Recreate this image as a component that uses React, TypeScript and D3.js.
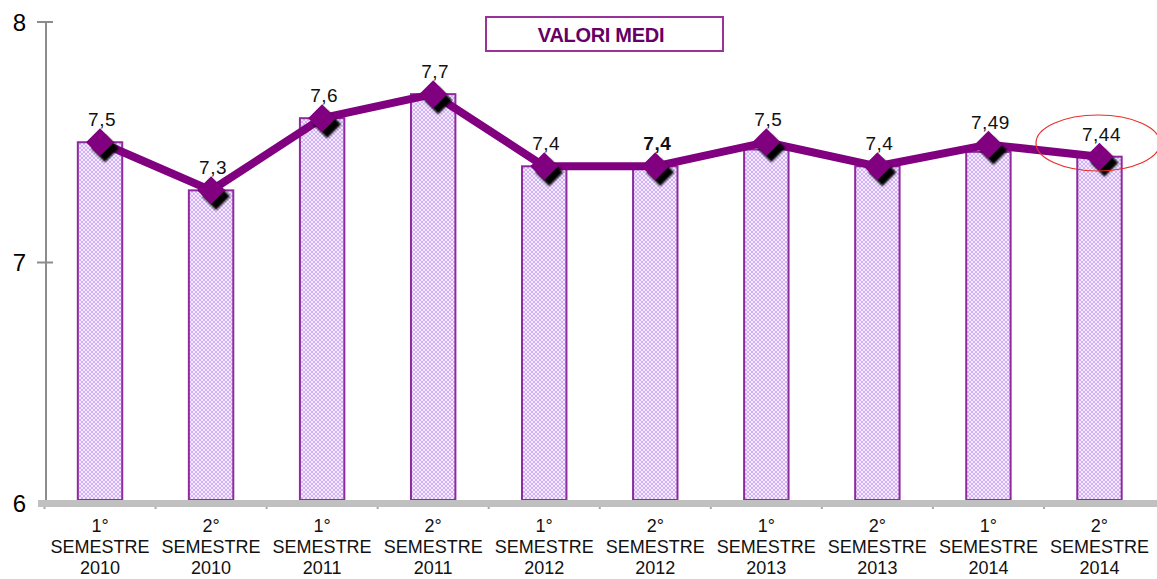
import React from "react";
import * as d3 from "d3";

const categories = [
  ["1°", "SEMESTRE", "2010"],
  ["2°", "SEMESTRE", "2010"],
  ["1°", "SEMESTRE", "2011"],
  ["2°", "SEMESTRE", "2011"],
  ["1°", "SEMESTRE", "2012"],
  ["2°", "SEMESTRE", "2012"],
  ["1°", "SEMESTRE", "2013"],
  ["2°", "SEMESTRE", "2013"],
  ["1°", "SEMESTRE", "2014"],
  ["2°", "SEMESTRE", "2014"],
];
const barValues = [7.5, 7.3, 7.6, 7.7, 7.4, 7.4, 7.47, 7.4, 7.46, 7.44];
const lineValues = [7.5, 7.3, 7.6, 7.7, 7.4, 7.4, 7.5, 7.4, 7.49, 7.44];
const labels = ["7,5", "7,3", "7,6", "7,7", "7,4", "7,4", "7,5", "7,4", "7,49", "7,44"];
const yTicks = [6, 7, 8];

const width = 1157;
const height = 579;

export default function App() {
  const keys = categories.map((_, i) => String(i));
  const x = d3.scaleBand().domain(keys).range([44.5, 1155]).paddingInner(0.6).paddingOuter(0.3);
  const y = d3.scaleLinear().domain([6, 8]).range([503, 22]);
  const cx = (i: number) => (x(String(i)) as number) + x.bandwidth() / 2;

  const line = d3
    .line<number>()
    .x((_, i) => cx(i))
    .y((d) => y(d));

  const diamond = (px: number, py: number) =>
    `M${px},${py - 14}L${px + 14},${py}L${px},${py + 14}L${px - 14},${py}Z`;

  return (
    <svg
      width={width}
      height={height}
      style={{ position: "absolute", left: 0, top: 0, background: "#fff" }}
      fontFamily="Arial, 'Liberation Sans', sans-serif"
    >
      <defs>
        <pattern id="hatch" width="4" height="4" patternUnits="userSpaceOnUse">
          <rect width="4" height="4" fill="#f4ebff" />
          <path d="M0,0L4,4M4,0L0,4" stroke="#c9a2f2" strokeWidth="0.8" />
        </pattern>
        <filter id="blur" x="-50%" y="-50%" width="200%" height="200%">
          <feGaussianBlur stdDeviation="1" />
        </filter>
      </defs>

      {/* bars */}
      {barValues.map((v, i) => (
        <rect
          key={i}
          x={x(String(i))}
          y={y(v)}
          width={x.bandwidth()}
          height={y(6) - y(v) - 3}
          fill="url(#hatch)"
          stroke="#8e2a9e"
          strokeWidth={2}
        />
      ))}

      {/* y axis */}
      <line x1={46} x2={46} y1={y(8)} y2={y(6)} stroke="#8c8c8c" strokeWidth={2} />
      {yTicks.map((t) => (
        <g key={t}>
          {t !== 6 && <line x1={37} x2={53} y1={y(t)} y2={y(t)} stroke="#8c8c8c" strokeWidth={2} />}
          <text x={26} y={y(t)} dy="0.36em" textAnchor="end" fontSize={24} fill="#000">
            {t}
          </text>
        </g>
      ))}

      {/* x axis */}
      <rect x={38} y={y(6) - 3} width={width - 38} height={7} fill="#c0c0c0" />
      {categories.map((_, i) => (
        <line
          key={i}
          x1={(x(String(i)) as number) - x.step() * 0.3}
          x2={(x(String(i)) as number) - x.step() * 0.3}
          y1={y(6) + 4}
          y2={y(6) + 6}
          stroke="#a8a8a8"
          strokeWidth={2}
        />
      ))}
      {categories.map((c, i) => (
        <text key={i} x={cx(i)} textAnchor="middle" fontSize={18} fill="#111">
          {c.map((s, j) => (
            <tspan key={j} x={cx(i)} y={532 + j * 21}>
              {s}
            </tspan>
          ))}
        </text>
      ))}

      {/* line */}
      <path d={line(lineValues) || ""} fill="none" stroke="#800080" strokeWidth={8} strokeLinejoin="round" />
      {lineValues.map((v, i) => (
        <path key={"s" + i} d={diamond(cx(i) + 5, y(v) + 6)} fill="#000" filter="url(#blur)" />
      ))}
      {lineValues.map((v, i) => (
        <path key={"d" + i} d={diamond(cx(i), y(v))} fill="#800080" />
      ))}

      {/* data labels */}
      {lineValues.map((v, i) => (
        <text
          key={"l" + i}
          x={cx(i) + 2}
          y={y(v) - 16}
          textAnchor="middle"
          fontSize={19}
          letterSpacing={0.5}
          fontWeight={i === 5 ? "bold" : "normal"}
          fill="#111"
        >
          {labels[i]}
        </text>
      ))}

      {/* title */}
      <rect x={486} y={17} width={237} height={34} fill="#fff" stroke="#993399" strokeWidth={2} />
      <text x={601} y={42} textAnchor="middle" fontSize={20} fontWeight="bold" letterSpacing={-0.3} fill="#660066">
        VALORI MEDI
      </text>

      {/* highlight */}
      <ellipse
        cx={1098}
        cy={143}
        rx={62}
        ry={28}
        fill="none"
        stroke="#e8302a"
        strokeWidth={1.2}
      />
    </svg>
  );
}
